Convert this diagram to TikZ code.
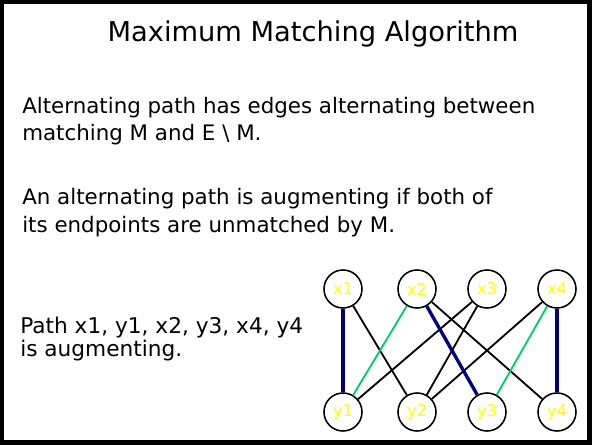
\documentclass[tikz,border=0pt]{standalone}
\usepackage{fontspec}
\setmainfont{DejaVu Sans}
\usepackage{xcolor}
\usetikzlibrary{positioning}
\definecolor{matchblue}{HTML}{000080}
\definecolor{pathgreen}{HTML}{00CC66}
\definecolor{labelyellow}{HTML}{FFFF00}

\begin{document}
\begin{tikzpicture}[
    x=0.025cm, y=-0.025cm,
    vertex/.style={circle, draw, line width=1.1pt, fill=white, minimum size=0.95cm, inner sep=0pt, text=labelyellow, font=\fontsize{11.5}{13}\selectfont},
    body/.style={anchor=base west, inner sep=0pt, font=\fontsize{15.2}{18}\selectfont},
    plain/.style={draw=black, line width=1.3pt},
    matched/.style={draw=matchblue, line width=2.4pt},
    altern/.style={draw=pathgreen, line width=1.3pt},
]
    \useasboundingbox (0,0) rectangle (592,445);
    \draw[line width=3pt] (1.5,1.5) rectangle (589.5,442.5);

    % Texts
    \node[anchor=base, inner sep=0pt, font=\fontsize{19.4}{23}\selectfont] (title) at (313,42) {Maximum Matching Algorithm};
    \node[body] (alt1) at (22,114) {Alternating path has edges alternating between};
    \node[body] (alt2) at (22,141) {matching M and E \textbackslash\ M.};
    \node[body] (aug1) at (22,205) {An alternating path is augmenting if both of};
    \node[body] (aug2) at (22,233) {its endpoints are unmatched by M.};
    \node[body, font=\fontsize{15.4}{18}\selectfont] (path1) at (20,333) {Path x1, y1, x2, y3, x4, y4};
    \node[body, font=\fontsize{15.4}{18}\selectfont] (path2) at (20,357) {is augmenting.};

    % Vertices
    \foreach \name/\xpos in {1/343, 2/417, 3/487, 4/557} {
        \node[vertex] (x\name) at (\xpos,289) {x\name};
        \node[vertex] (y\name) at (\xpos,412) {y\name};
    }

    % Edges
    \draw[plain] (x1) -- (y2);
    \draw[plain] (x2) -- (y4);
    \draw[plain] (x3) -- (y1);
    \draw[plain] (x3) -- (y2);
    \draw[plain] (x4) -- (y2);
    \draw[altern] (x2) -- (y1);
    \draw[altern] (x4) -- (y3);
    \draw[matched] (x1) -- (y1);
    \draw[matched] (x2) -- (y3);
    \draw[matched] (x4) -- (y4);
\end{tikzpicture}
\end{document}
